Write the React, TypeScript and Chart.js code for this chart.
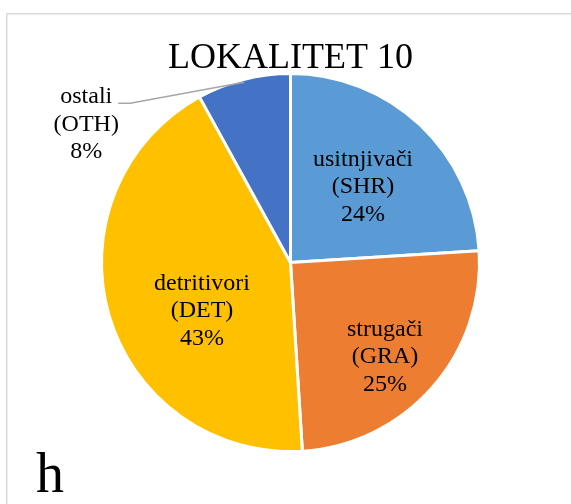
import React, { useEffect, useRef } from "react";
import { Chart, registerables } from "chart.js";

Chart.register(...registerables);

const chartTitle = "LOKALITET 10";
const panelLetter = "h";
const categories = ["usitnjivači", "strugači", "detritivori", "ostali"];
const codes = ["(SHR)", "(GRA)", "(DET)", "(OTH)"];
const values = [24, 25, 43, 8];
const colors = ["#5B9BD5", "#ED7D31", "#FFC000", "#4472C4"];

// label placement (style only): inside labels use radial fraction + angle nudge (deg)
const labelPlacement = [
  { inside: true, frac: 0.554, dAngle: 0.6 },
  { inside: true, frac: 0.707, dAngle: 3.6 },
  { inside: true, frac: 0.534, dAngle: -12.5 },
  { inside: false, frac: 1, dAngle: 0 },
];

const FONT = '"Liberation Serif", "Times New Roman", serif';

const labelPlugin = {
  id: "pieLabels",
  afterDraw(chart: any) {
    const ctx = chart.ctx as CanvasRenderingContext2D;
    const meta = chart.getDatasetMeta(0);
    const total = values.reduce((a, b) => a + b, 0);
    ctx.save();
    // frame
    ctx.strokeStyle = "#D9D9D9";
    ctx.lineWidth = 1.5;
    ctx.strokeRect(6.75, 13.75, 700, 700);

    // title
    const cx0 = meta.data[0].x;
    ctx.fillStyle = "#000";
    ctx.font = `36px ${FONT}`;
    ctx.textAlign = "center";
    ctx.textBaseline = "alphabetic";
    ctx.fillText(chartTitle, cx0, 68);

    // panel letter
    ctx.font = `56px ${FONT}`;
    ctx.textAlign = "left";
    ctx.fillText(panelLetter, 36, 492);

    ctx.font = `24px ${FONT}`;
    ctx.textAlign = "center";
    ctx.textBaseline = "middle";
    const lh = 27.5;
    meta.data.forEach((arc: any, i: number) => {
      const p = labelPlacement[i];
      const mid = (arc.startAngle + arc.endAngle) / 2 + (p.dAngle * Math.PI) / 180;
      const pct = Math.round((values[i] / total) * 100) + "%";
      const lines = [categories[i], codes[i], pct];
      let lx: number, ly: number;
      if (p.inside) {
        const r = arc.outerRadius * p.frac;
        lx = arc.x + r * Math.cos(mid);
        ly = arc.y + r * Math.sin(mid);
      } else {
        const r = arc.outerRadius - 3;
        const ex = arc.x + r * Math.cos(mid);
        const ey = arc.y + r * Math.sin(mid);
        const elbowX = ex - 114;
        const elbowY = ey + 21;
        ctx.strokeStyle = "#A6A6A6";
        ctx.lineWidth = 1.5;
        ctx.beginPath();
        ctx.moveTo(ex, ey);
        ctx.lineTo(elbowX, elbowY);
        ctx.lineTo(elbowX - 12, elbowY);
        ctx.stroke();
        lx = elbowX - 44;
        ly = elbowY + 21;
      }
      ctx.fillStyle = "#000";
      lines.forEach((t, k) => ctx.fillText(t, lx, ly + (k - 1) * lh));
    });
    ctx.restore();
  },
};

export default function App() {
  const ref = useRef<HTMLCanvasElement | null>(null);
  useEffect(() => {
    if (!ref.current) return;
    const chart = new Chart(ref.current, {
      type: "pie",
      data: {
        labels: categories,
        datasets: [
          {
            data: values,
            backgroundColor: colors,
            borderColor: "#FFFFFF",
            borderWidth: 3,
          },
        ],
      },
      options: {
        responsive: false,
        maintainAspectRatio: false,
        animation: false,
        layout: { padding: { left: 100, right: 90, top: 72, bottom: 51 } },
        plugins: {
          legend: { display: false },
          tooltip: { enabled: false },
          title: { display: false },
        },
      },
      plugins: [labelPlugin],
    });
    return () => chart.destroy();
  }, []);
  return (
    <div style={{ position: "absolute", left: 0, top: 0, width: 571, height: 504, background: "#fff" }}>
      <canvas ref={ref} width={571} height={504} style={{ width: 571, height: 504, display: "block" }} />
    </div>
  );
}
